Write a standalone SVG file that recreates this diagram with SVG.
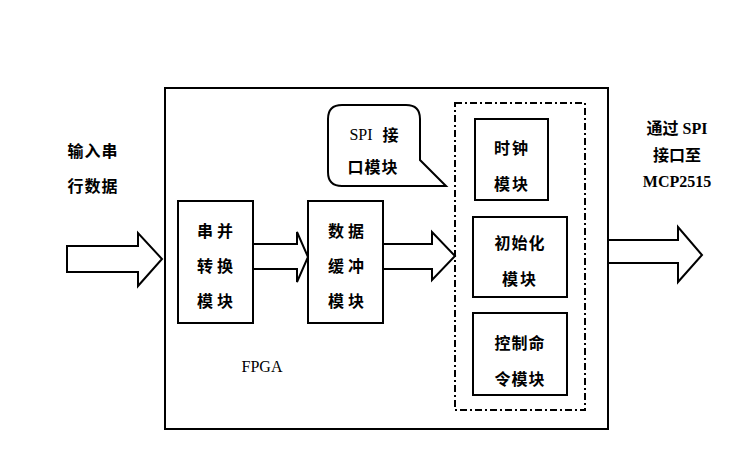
<svg xmlns="http://www.w3.org/2000/svg" width="753" height="470" viewBox="0 0 753 470">
<style>
.box{fill:#fff;stroke:#000;stroke-width:2}
.arr{fill:#fff;stroke:#000;stroke-width:2;stroke-linejoin:miter}
.cj{font-family:"Noto Sans CJK SC","Liberation Sans",sans-serif;font-size:16px;font-weight:bold;fill:#000;text-anchor:middle;dominant-baseline:central}
.sf{font-family:"Liberation Serif","Noto Sans CJK SC",serif;font-size:16px;fill:#000;text-anchor:middle;dominant-baseline:central}
</style>
<rect width="753" height="470" fill="#fff"/>
<g id="fpga">
<rect class="box" x="165" y="88" width="443" height="341"/>
<text class="sf" x="262" y="366">FPGA</text>
</g>
<g id="input-label">
<text class="cj" x="93" y="150" style="letter-spacing:1px">输入串</text>
<text class="cj" x="93" y="185" style="letter-spacing:1px">行数据</text>
</g>
<g id="output-label">
<text class="sf" x="677" y="128" style="font-weight:bold">通过 SPI</text>
<text class="cj" x="677" y="154">接口至</text>
<text class="sf" x="677" y="181" style="font-weight:bold">MCP2515</text>
</g>
<g id="connectors">
<polygon class="arr" points="67,246 138,246 138,233 162,259 138,286 138,272 67,272"/>
<polygon class="arr" points="253,244 297,244 297,232 308,257 297,282 297,269 253,269"/>
<polygon class="arr" points="383,244 432,244 432,232 455,256 432,280 432,269 383,269"/>
<polygon class="arr" points="608,240 678,240 678,227 702,255 678,282 678,263 608,263"/>
</g>
<g id="serial-parallel">
<rect class="box" x="178" y="201" width="75" height="122"/>
<text class="cj" x="217" y="230" style="letter-spacing:4px">串并</text>
<text class="cj" x="217" y="265" style="letter-spacing:4px">转换</text>
<text class="cj" x="217" y="300" style="letter-spacing:4px">模块</text>
</g>
<g id="buffer">
<rect class="box" x="308" y="201" width="75" height="122"/>
<text class="cj" x="348" y="230" style="letter-spacing:4px">数据</text>
<text class="cj" x="348" y="265" style="letter-spacing:4px">缓冲</text>
<text class="cj" x="348" y="300" style="letter-spacing:4px">模块</text>
</g>
<g id="spi-bubble">
<path class="box" d="M342,105 H406 Q420,105 420,119 V160 L446,186 H342 Q328,186 328,172 V119 Q328,105 342,105 Z"/>
<text class="sf" x="374" y="134">SPI <tspan dx="6" style="font-family:'Noto Sans CJK SC',sans-serif;font-weight:bold">接</tspan></text>
<text class="cj" x="373" y="166" style="letter-spacing:1px">口模块</text>
</g>
<g id="spi-module">
<rect x="455" y="103" width="130" height="307" fill="none" stroke="#000" stroke-width="2" stroke-dasharray="7,3,2,3"/>
</g>
<g id="clock">
<rect class="box" x="475" y="119" width="73" height="81"/>
<text class="cj" x="512" y="147" style="letter-spacing:2px">时钟</text>
<text class="cj" x="512" y="183" style="letter-spacing:2px">模块</text>
</g>
<g id="init">
<rect class="box" x="473" y="217" width="94" height="80"/>
<text class="cj" x="520" y="242" style="letter-spacing:1px">初始化</text>
<text class="cj" x="520" y="278" style="letter-spacing:2px">模块</text>
</g>
<g id="control">
<rect class="box" x="473" y="313" width="94" height="82"/>
<text class="cj" x="520" y="342" style="letter-spacing:1px">控制命</text>
<text class="cj" x="520" y="378" style="letter-spacing:1px">令模块</text>
</g>
</svg>
